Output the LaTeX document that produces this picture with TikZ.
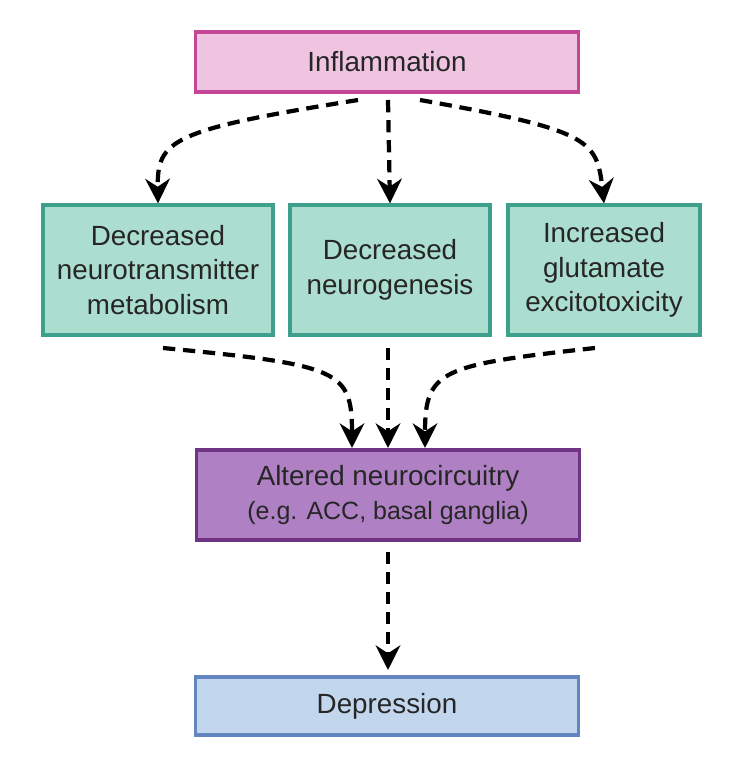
\documentclass[tikz,border=0pt]{standalone}
\usepackage{fontspec}
\setmainfont{Liberation Sans}
\usetikzlibrary{arrows.meta,positioning}

\definecolor{pinkfill}{RGB}{238,196,224}
\definecolor{pinkline}{RGB}{196,70,150}
\definecolor{tealfill}{RGB}{172,222,208}
\definecolor{tealline}{RGB}{62,160,140}
\definecolor{purpfill}{RGB}{176,128,196}
\definecolor{purpline}{RGB}{112,52,132}
\definecolor{bluefill}{RGB}{194,214,238}
\definecolor{blueline}{RGB}{100,134,192}

\begin{document}
\begin{tikzpicture}[x=0.01cm,y=-0.01cm,
    box/.style={draw,line width=0.9pt,align=center,font=\fontsize{7.9}{9.8}\selectfont,
                inner sep=1pt,text=black!85},
    wide/.style={box,minimum width=3.82cm,minimum height=0.60cm},
    mid/.style={box,minimum height=1.30cm},
    flow/.style={-{Stealth[length=7pt,width=7pt]},line width=1.2pt,
                 dash pattern=on 3.5pt off 2.2pt}]
  \useasboundingbox (0,0) rectangle (736,772);

  \node[wide,draw=pinkline,fill=pinkfill] (infl) at (387,62) {Inflammation};
  \node[mid,draw=tealline,fill=tealfill,minimum width=2.30cm] (neuro) at (158,270)
    {Decreased\\neurotransmitter\\metabolism};
  \node[mid,draw=tealline,fill=tealfill,minimum width=2.00cm] (genesis) at (390,270)
    {Decreased\\neurogenesis};
  \node[mid,draw=tealline,fill=tealfill,minimum width=1.92cm] (gluta) at (604,270)
    {Increased\\glutamate\\excitotoxicity};
  \node[wide,draw=purpline,fill=purpfill,minimum height=0.90cm] (circ) at (388,495)
    {Altered neurocircuitry\\{\fontsize{7.1}{9.8}\selectfont(e.g. ACC, basal ganglia)}};
  \node[wide,draw=blueline,fill=bluefill,minimum height=0.58cm] (depr) at (387,706) {Depression};

  % arrows out of inflammation
  \coordinate (i1) at (358,100);
  \coordinate (i2) at (388,100);
  \coordinate (i3) at (420,100);
  \draw[flow] (i1) .. controls (170,130) and (157,140) .. (neuro.north);
  \draw[flow] (i2) -- (genesis.north);
  \draw[flow] (i3) .. controls (590,130) and (597,140) .. (gluta.north);

  % arrows into neurocircuitry
  \coordinate (n1) at (163,348);
  \coordinate (g1) at (388,348);
  \coordinate (t1) at (595,348);
  \coordinate (c1) at (352,448);
  \coordinate (c2) at (388,448);
  \coordinate (c3) at (425,448);
  \draw[flow] (n1) .. controls (340,365) and (352,370) .. (c1);
  \draw[flow] (g1) -- (c2);
  \draw[flow] (t1) .. controls (440,365) and (425,370) .. (c3);

  \coordinate (c4) at (388,552);
  \coordinate (d1) at (388,670);
  \draw[flow] (c4) -- (d1);
\end{tikzpicture}
\end{document}
